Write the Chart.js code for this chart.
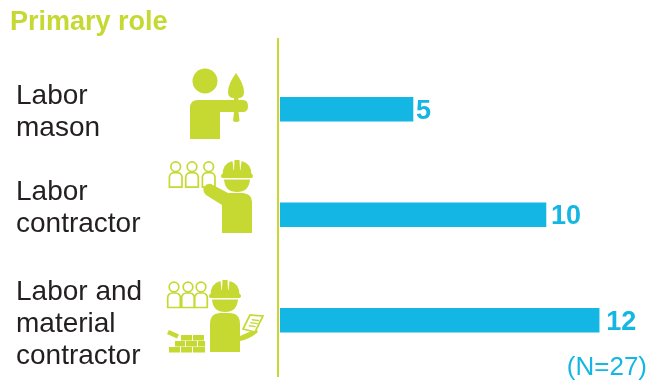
<!DOCTYPE html>
<html>
<head>
<meta charset="utf-8">
<title>Primary role</title>
<script src="https://cdn.jsdelivr.net/npm/chart.js@4"></script>
<style>
  html, body { margin: 0; background: #fff; }
  #wrap { position: relative; width: 647px; height: 381px; overflow: hidden; }
  canvas { position: absolute; left: 0; top: 0; }
  svg { position: absolute; left: 0; top: 0; }
  .lime { fill: #c5d932; }
  .outline { fill: #fff; stroke: #c5d932; stroke-width: 1.7; }
</style>
</head>
<body>
<div id="wrap">
  <canvas id="chart" width="647" height="381"></canvas>
  <svg width="647" height="381" viewBox="0 0 647 381">
    <defs>
      <g id="person">
        <circle class="outline" cx="0" cy="0" r="4.800"/>
        <path class="outline" d="M-6.300 20.500V10.500a4.500 4.500 0 0 1 4.500 -4.500h3.600a4.500 4.500 0 0 1 4.500 4.500V20.500Z"/>
      </g>
      <g id="worker">
        <path class="lime" d="M-14.500 -7Q-14.500 -18.500 -4.500 -21L-3.500 -12H3.500L4.500 -21Q14.500 -18.500 14.500 -7Z"/>
        <path class="lime" d="M-2.500 -22H2.500L3 -12H-3Z"/>
        <path class="lime" d="M-16 -6Q-16 -8 -13 -8.500Q0 -10.500 13 -8.500Q16 -8 16 -6Q16 -4 13 -4H-13Q-16 -4 -16 -6Z"/>
        <path class="lime" d="M-13 -2.500H13Q12 10 0 10T-13 -2.500Z"/>
      </g>
    </defs>

    <!-- mason with trowel -->
    <circle class="lime" cx="205" cy="81" r="12.500"/>
    <path class="lime" d="M190 139V108Q190 100 198 100H243Q248 100 248 106T243 112H220V139Z"/>
    <path class="lime" d="M236 73Q244 84 244 92Q244 98 238.500 98V112L239.500 121Q236.500 123 233 121L234 112V98Q228 98 228 92Q228 84 236 73Z"/>

    <!-- contractor with crew -->
    <use href="#person" x="175.700" y="166.700"/>
    <use href="#person" x="192" y="166.700"/>
    <use href="#person" x="208.700" y="166.700"/>
    <use href="#worker" x="237" y="182"/>
    <path class="lime" d="M222 233V205L206 195Q202 191 204 187Q207 183 211 184L228 193H243Q252 194 252 202V233Z"/>

    <!-- material contractor with clipboard and bricks -->
    <use href="#person" x="174" y="287"/>
    <use href="#person" x="188" y="287"/>
    <use href="#person" x="201" y="287"/>
    <use href="#worker" x="225" y="302"/>
    <path class="lime" d="M210 352V324Q210 313 221 313H229Q240 313 240 324V336L256 329L258 332Q250 339 240 341V352Z"/>
    <path class="outline" d="M250 315L263 316L255 332L243 329Z"/>
    <path class="lime" d="M252 319L259.500 320L258.800 321.300L251.400 320.300ZM250.500 322L258 323L257.300 324.300L250 323.300ZM249 325L256 326L255.300 327.300L248.400 326.300Z"/>
    <path class="lime" d="M169 330L179 334.500L177 338.500L167 334Z"/>
    <path class="lime" d="M181 335h11v5.500h-11zM193 335h11v5.500h-11z"/>
    <path class="lime" d="M175 341h10v5.500h-10zM186 341h11v5.500h-11zM198 341h7v5.500h-7z"/>
    <path class="lime" d="M169 347h11v5.500h-11zM181 347h11v5.500h-11zM193 347h12v5.500h-12z"/>
  </svg>
</div>
<script>
const categories = [['Labor', 'mason'], ['Labor', 'contractor'], ['Labor and', 'material', 'contractor']];
const counts = [5, 10, 12];
const chartTitle = 'Primary role';
const sampleNote = '(N=27)';

const LIME = '#c5d932';
const CYAN = '#14b6e3';
const INK = '#231f20';
const LABEL_FONT = '28px "Liberation Sans", Arial, sans-serif';
const NOTE_FONT = '26px "Liberation Sans", Arial, sans-serif';
const BOLD_FONT = 'bold 27px "Liberation Sans", Arial, sans-serif';

// category text sits a little off the bar centre on each row
const labelNudge = [3, -6, 4];
const valueGap = [3, 5, 7];

const annotations = {
  id: 'annotations',
  afterDatasetsDraw(chart) {
    const { ctx } = chart;
    const x = chart.scales.x, y = chart.scales.y;
    ctx.save();

    // tall axis rule, runs past the plot area at both ends
    ctx.fillStyle = LIME;
    ctx.fillRect(277, 38, 2, 339);

    ctx.textBaseline = 'middle';
    ctx.textAlign = 'left';
    ctx.font = BOLD_FONT;
    ctx.fillText(chartTitle, 10, 23);

    ctx.fillStyle = INK;
    ctx.font = LABEL_FONT;
    categories.forEach((lines, i) => {
      const mid = y.getPixelForValue(i) + labelNudge[i];
      lines.forEach((line, j) => {
        ctx.fillText(line, 16, mid + (j - (lines.length - 1) / 2) * 32);
      });
    });

    ctx.fillStyle = CYAN;
    ctx.font = BOLD_FONT;
    counts.forEach((v, i) => {
      ctx.fillText(String(v), x.getPixelForValue(v) + valueGap[i], y.getPixelForValue(i) + 2);
    });

    ctx.font = NOTE_FONT;
    ctx.textAlign = 'right';
    ctx.fillText(sampleNote, 647, 368);
    ctx.restore();
  }
};

new Chart(document.getElementById('chart'), {
  type: 'bar',
  data: {
    labels: categories,
    datasets: [{ data: counts, backgroundColor: CYAN, barThickness: 24, borderWidth: 0 }]
  },
  options: {
    indexAxis: 'y',
    responsive: false,
    animation: false,
    layout: { padding: { left: 280, right: 0, top: 56.500, bottom: 8 } },
    plugins: { legend: { display: false }, tooltip: { enabled: false } },
    scales: {
      x: { display: false, min: 0, max: 13.800 },
      y: { display: false }
    }
  },
  plugins: [annotations]
});
</script>
</body>
</html>
